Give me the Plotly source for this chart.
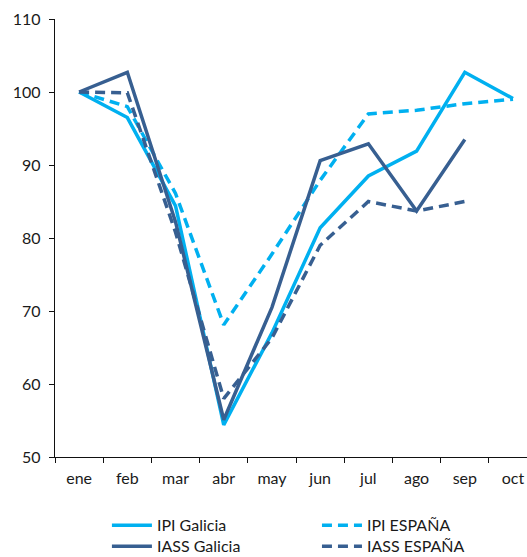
import plotly.graph_objects as go

months = ["ene", "feb", "mar", "abr", "may", "jun", "jul", "ago", "sep", "oct"]
ipi_galicia = [100, 96.5, 84.4, 54.4, 67.0, 81.4, 88.5, 91.9, 102.7, 99.1]
ipi_espana = [100, 98.0, 86.1, 68.1, 77.8, 87.9, 97.0, 97.5, 98.4, 99.0]
iass_galicia = [100, 102.7, 82.2, 55.1, 70.5, 90.6, 92.9, 83.7, 93.5, None]
iass_espana = [100, 99.9, 80.8, 58.0, 66.3, 79.0, 85.0, 83.7, 85.0, None]

y_ticks = [50, 60, 70, 80, 90, 100, 110]

LIGHT = "#00B0F0"
DARK = "#375F91"
LW = 3.5

W, H = 527, 570
L, T = 55, 18.5
PLOT_H = 438.2
B = H - T - PLOT_H

fig = go.Figure()
fig.add_trace(go.Scatter(x=months, y=ipi_galicia, name="IPI Galicia", mode="lines",
                         line=dict(color=LIGHT, width=LW), legend="legend"))
fig.add_trace(go.Scatter(x=months, y=ipi_espana, name="IPI ESPAÑA", mode="lines",
                         line=dict(color=LIGHT, width=LW, dash="10px,6px"), legend="legend2"))
fig.add_trace(go.Scatter(x=months, y=iass_galicia, name="IASS Galicia", mode="lines",
                         line=dict(color=DARK, width=LW), legend="legend3"))
fig.add_trace(go.Scatter(x=months, y=iass_espana, name="IASS ESPAÑA", mode="lines",
                         line=dict(color=DARK, width=LW, dash="10px,6px"), legend="legend4"))


def leg(xfrac, row_center):
    y = (H - B - row_center) / PLOT_H
    return dict(orientation="v", yanchor="middle", y=y, xanchor="left", x=xfrac,
                font=dict(size=16, color="#1a1a1a"), itemwidth=40,
                bgcolor="rgba(0,0,0,0)")


fig.update_layout(
    width=W, height=H,
    margin=dict(l=L, r=0, t=T, b=B, pad=0),
    paper_bgcolor="white", plot_bgcolor="white",
    font=dict(family="Lato, Open Sans, sans-serif", size=16, color="#1a1a1a"),
    showlegend=True,
    legend=leg(0.11, 525),
    legend2=leg(0.555, 525),
    legend3=leg(0.11, 546),
    legend4=leg(0.555, 546),
)
fig.update_xaxes(type="category", categoryorder="array", categoryarray=months,
                 range=[-0.5, 9.29], showline=True, linecolor="#111", linewidth=1.3,
                 ticks="outside", ticklen=5, tickcolor="#111", tickson="boundaries",
                 ticklabelstandoff=7,
                 showgrid=False, zeroline=False, tickfont=dict(size=16), automargin=False)
fig.update_yaxes(range=[50, 110], tickvals=y_ticks, showline=True, linecolor="#111",
                 linewidth=1.3, ticks="outside", ticklen=5, tickcolor="#111",
                 ticklabelstandoff=5,
                 showgrid=False, zeroline=False, tickfont=dict(size=16), automargin=False)

fig.write_html(
    "out.html",
    config={"displayModeBar": False},
    post_script="document.body.style.margin='0';document.body.style.overflow='hidden';"
                "document.documentElement.style.overflow='hidden';",
)
